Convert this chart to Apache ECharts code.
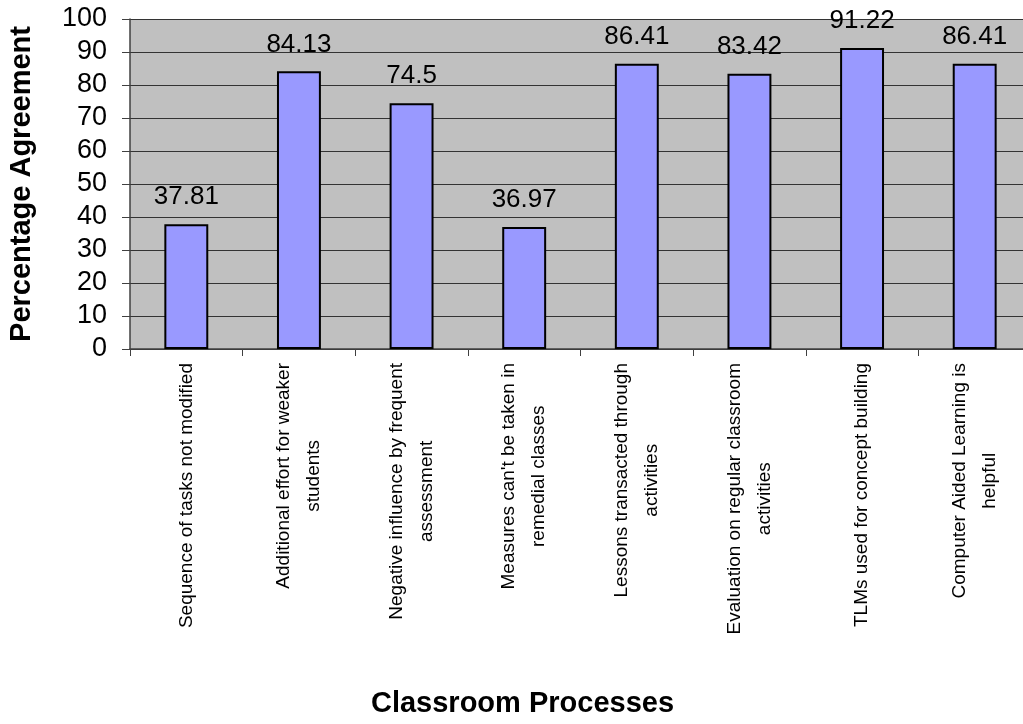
<!DOCTYPE html>
<html>
<head>
<meta charset="utf-8">
<script src="https://cdn.jsdelivr.net/npm/echarts@6/dist/echarts.min.js"></script>
<style>
  html, body { margin: 0; padding: 0; background: #ffffff; }
  #chart { width: 1023px; height: 724px; }
</style>
</head>
<body>
<div id="chart"></div>
<script>
// Survey items (two-line labels) and the share of teachers agreeing with each.
const categories = [
  'Sequence of tasks not modified',
  'Additional effort for weaker\nstudents',
  'Negative influence by frequent\nassessment',
  "Measures can't be taken in\nremedial classes",
  'Lessons transacted through\nactivities',
  'Evaluation on regular classroom\nactivities',
  'TLMs used for concept building',
  'Computer Aided Learning is\nhelpful'
];
const agreement = [37.81, 84.13, 74.5, 36.97, 86.41, 83.42, 91.22, 86.41];
const yTicks = { min: 0, max: 100, interval: 10 };

const FONT = '"Liberation Sans", Arial, sans-serif';

const chart = echarts.init(document.getElementById('chart'), null, { renderer: 'canvas' });

chart.setOption({
  animation: false,
  backgroundColor: '#ffffff',
  grid: {
    left: 130, right: -8, top: 19, bottom: 375,
    outerBoundsMode: 'none',
    containLabel: false,
    show: true, backgroundColor: '#c0c0c0', borderWidth: 0
  },
  xAxis: {
    type: 'category',
    data: categories,
    name: 'Classroom Processes',
    nameLocation: 'middle',
    nameGap: 340,
    // the plot runs past the right edge, so the title is nudged left to sit under the visible part
    nameTextStyle: { fontFamily: FONT, fontWeight: 'bold', fontSize: 29, color: '#000', padding: [0, 116, 0, 0] },
    axisLine: { lineStyle: { color: '#404040', width: 1.5 } },
    axisTick: { show: true, length: 7, alignWithLabel: false, lineStyle: { color: '#404040' } },
    axisLabel: {
      interval: 0,
      rotate: 90,
      margin: 14,
      fontFamily: FONT,
      fontSize: 19,
      color: '#000',
      lineHeight: 30,
      formatter: function (v) {
        return v.split('\n').map(function (s) { return '{c|' + s + '}'; }).join('\n');
      },
      rich: { c: { align: 'center', fontFamily: FONT, fontSize: 19, lineHeight: 30, color: '#000' } }
    },
    splitLine: { show: false }
  },
  yAxis: {
    type: 'value',
    min: yTicks.min, max: yTicks.max, interval: yTicks.interval,
    name: 'Percentage Agreement',
    nameLocation: 'middle',
    nameGap: 94,
    nameRotate: 90,
    nameTextStyle: { fontFamily: FONT, fontWeight: 'bold', fontSize: 29, color: '#000' },
    axisLine: { show: true, lineStyle: { color: '#404040', width: 1.5 } },
    axisTick: { show: true, length: 8, lineStyle: { color: '#404040' } },
    axisLabel: { margin: 23, fontFamily: FONT, fontSize: 27, color: '#000' },
    splitLine: { show: true, lineStyle: { color: '#333333', width: 1 } }
  },
  series: [{
    type: 'bar',
    data: agreement,
    barWidth: '39%',
    itemStyle: { color: '#9999ff', borderColor: '#000000', borderWidth: 2 },
    label: {
      show: true,
      position: 'top',
      distance: 14,
      fontFamily: FONT,
      fontSize: 26,
      color: '#000',
      formatter: function (p) { return String(p.value); }
    }
  }]
});
</script>
</body>
</html>
